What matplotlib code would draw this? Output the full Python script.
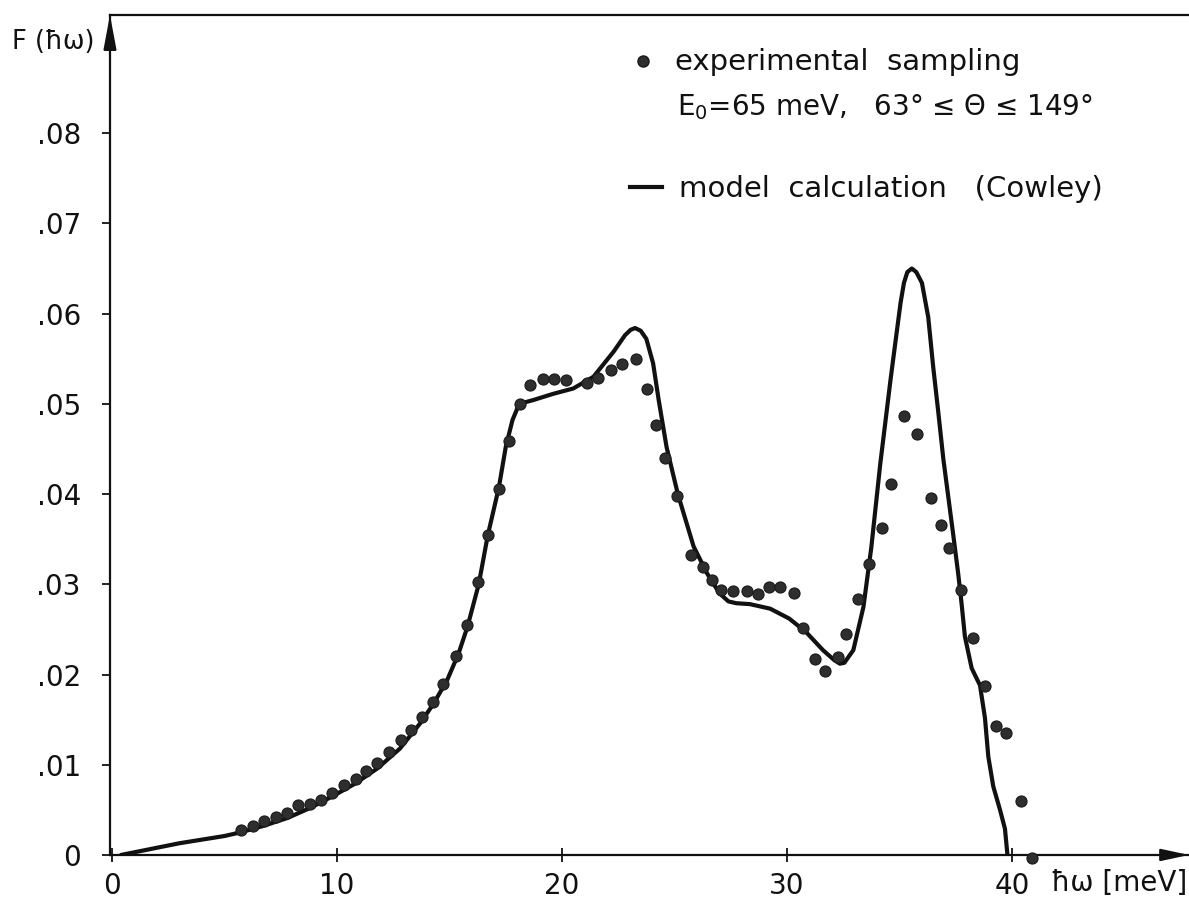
import matplotlib
matplotlib.use('Agg')
import matplotlib.pyplot as plt
from matplotlib.lines import Line2D

# ── Data ──────────────────────────────────────────────────────────────────
# experimental sampling points (energy in meV, F(hw))
exp_x = [5.72, 6.25, 6.77, 7.27, 7.76, 8.25, 8.8, 9.27, 9.79, 10.33,
         10.84, 11.3, 11.79, 12.3, 12.84, 13.3, 13.76, 14.25, 14.73, 15.29,
         15.76, 16.28, 16.72, 17.19, 17.66, 18.13, 18.58, 19.17, 19.66, 20.16,
         21.13, 21.59, 22.16, 22.67, 23.29, 23.76, 24.18, 24.59, 25.1, 25.73,
         26.25, 26.65, 27.05, 27.61, 28.21, 28.72, 29.21, 29.69, 30.31, 30.73,
         31.26, 31.67, 32.25, 32.62, 33.17, 33.66, 34.24, 34.61, 35.21, 35.76,
         36.4, 36.83, 37.21, 37.73, 38.28, 38.8, 39.28, 39.73, 40.39, 40.9]
exp_y = [0.0028, 0.0032, 0.0038, 0.0042, 0.0047, 0.0055, 0.0057, 0.0061, 0.0069, 0.0078,
         0.0084, 0.0093, 0.0102, 0.0114, 0.0127, 0.0139, 0.0153, 0.0169, 0.0190, 0.0220,
         0.0255, 0.0302, 0.0355, 0.0406, 0.0459, 0.0500, 0.0521, 0.0527, 0.0528, 0.0526,
         0.0523, 0.0529, 0.0538, 0.0544, 0.0550, 0.0516, 0.0476, 0.0440, 0.0398, 0.0332,
         0.0319, 0.0305, 0.0294, 0.0292, 0.0293, 0.0289, 0.0297, 0.0297, 0.0290, 0.0252,
         0.0217, 0.0204, 0.0219, 0.0245, 0.0284, 0.0323, 0.0362, 0.0411, 0.0486, 0.0467,
         0.0396, 0.0366, 0.0340, 0.0294, 0.0240, 0.0187, 0.0143, 0.0135, 0.0060, -0.0003]

# model calculation (Cowley)
model_x = [0.4, 1.0, 2.0, 3.0, 4.0, 5.0, 5.7, 6.7, 7.8, 8.8,
           9.8, 10.8, 11.8, 12.8, 13.7, 14.3, 14.9, 15.4, 15.8, 16.3,
           16.7, 17.2, 17.5, 17.8, 18.1, 18.7, 19.6, 20.5, 21.4, 22.3,
           22.8, 23.05, 23.25, 23.5, 23.75, 24.05, 24.3, 24.65, 25.15, 25.85,
           26.45, 27.0, 27.4, 27.75, 28.35, 29.25, 30.1, 30.85, 31.6, 32.1,
           32.35, 32.55, 32.95, 33.4, 33.75, 34.15, 34.6, 34.85, 35.05, 35.2,
           35.35, 35.55, 35.75, 36.0, 36.28, 36.5, 36.73, 36.95, 37.17, 37.39,
           37.61, 37.76, 37.91, 38.21, 38.58, 38.8, 38.95, 39.17, 39.47, 39.69,
           39.8]
model_y = [0.0, 0.0003, 0.0008, 0.0013, 0.0017, 0.0021, 0.0025, 0.0032, 0.0041, 0.0052,
           0.0065, 0.0079, 0.0096, 0.0118, 0.0146, 0.0168, 0.0194, 0.0223, 0.0253, 0.0300,
           0.0354, 0.0408, 0.0452, 0.0482, 0.0500, 0.0504, 0.0511, 0.0517, 0.0530, 0.0558,
           0.0576, 0.0582, 0.0584, 0.0581, 0.0572, 0.0545, 0.0504, 0.0452, 0.0400, 0.0342,
           0.0312, 0.0290, 0.0281, 0.0279, 0.0278, 0.0273, 0.0262, 0.0247, 0.0227, 0.0216,
           0.0212, 0.0213, 0.0227, 0.0275, 0.0341, 0.0434, 0.0526, 0.0574, 0.0612, 0.0634,
           0.0646, 0.0650, 0.0646, 0.0634, 0.0596, 0.0541, 0.0490, 0.0439, 0.0397, 0.0355,
           0.0312, 0.0279, 0.0242, 0.0207, 0.0188, 0.0152, 0.0109, 0.0076, 0.0050, 0.0029,
           0.0]

x_ticks = [0, 10, 20, 30, 40]
y_ticks = [0, 0.01, 0.02, 0.03, 0.04, 0.05, 0.06, 0.07, 0.08]
y_ticklabels = ['0', '.01', '.02', '.03', '.04', '.05', '.06', '.07', '.08']

INK = '#111111'
DOT = '#2e2e2e'
FS = 20

# ── Figure ────────────────────────────────────────────────────────────────
fig = plt.figure(figsize=(11.89, 9.01), dpi=100, facecolor='white')
ax = fig.add_axes([0.0925, 0.0511, 0.9075, 0.9323])

ax.plot(model_x, model_y, color=INK, linewidth=3.0, solid_joinstyle='round',
        solid_capstyle='round', zorder=3)
ax.plot(exp_x, exp_y, 'o', color=DOT, markersize=8, markeredgecolor='#1a1a1a',
        markeredgewidth=0.8, clip_on=False, zorder=4)

ax.set_xlim(-0.09, 47.87)
ax.set_ylim(0, 0.0931)

ax.set_xticks(x_ticks)
ax.set_xticklabels([str(t) for t in x_ticks])
ax.set_yticks(y_ticks)
ax.set_yticklabels(y_ticklabels)
ax.tick_params(axis='x', direction='inout', length=10, width=1.3, pad=7,
               labelsize=FS, colors=INK)
ax.tick_params(axis='y', direction='out', length=6, width=1.3, pad=15,
               labelsize=FS, colors=INK)

for side in ['left', 'bottom', 'top']:
    ax.spines[side].set_linewidth(1.6)
    ax.spines[side].set_color(INK)
ax.spines['right'].set_visible(False)

# axis arrows
ax.annotate('', xy=(1.0, 0), xytext=(0.975, 0), xycoords='axes fraction',
            arrowprops=dict(arrowstyle='-|>,head_length=0.65,head_width=0.14',
                            color=INK, lw=1.6, mutation_scale=26,
                            shrinkA=0, shrinkB=0), annotation_clip=False)
ax.annotate('', xy=(0, 1.0), xytext=(0, 0.96), xycoords='axes fraction',
            arrowprops=dict(arrowstyle='-|>,head_length=0.8,head_width=0.15',
                            color=INK, lw=1.6, mutation_scale=26,
                            shrinkA=0, shrinkB=0), annotation_clip=False)

# axis labels
fig.text(12 / 1189, 1 - 42 / 901, 'F (ħω)', ha='left', va='center',
         fontsize=18.5, color=INK)
fig.text(1187 / 1189, 1 - 883 / 901, 'ħω [meV]', ha='right', va='center',
         fontsize=FS, color=INK)

# ── Legend (hand placed like the original) ───────────────────────────────
fig.add_artist(Line2D([643 / 1189], [1 - 61 / 901], marker='o', color=DOT,
                      markersize=8, markeredgecolor='#1a1a1a', linestyle='none'))
fig.text(675 / 1189, 1 - 70 / 901, 'experimental  sampling', ha='left',
         va='baseline', fontsize=21, color=INK)
fig.text(677 / 1189, 1 - 115 / 901, 'E$_\\mathrm{0}$=65 meV,   63° ≤ Θ ≤ 149°',
         ha='left', va='baseline', fontsize=FS, color=INK)
fig.add_artist(Line2D([630 / 1189, 662 / 1189], [1 - 187 / 901, 1 - 187 / 901],
                      color=INK, linewidth=3.0))
fig.text(679 / 1189, 1 - 197 / 901, 'model  calculation   (Cowley)', ha='left',
         va='baseline', fontsize=21, color=INK)

plt.savefig('out.png', dpi=100, facecolor='white')
plt.close()
